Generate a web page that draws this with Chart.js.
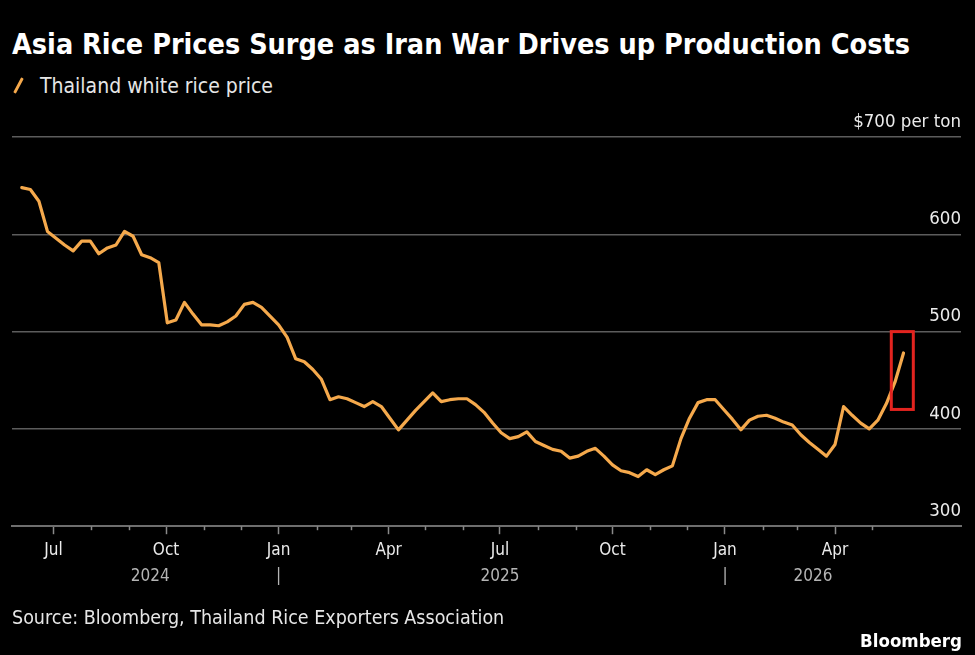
<!DOCTYPE html>
<html>
<head>
<meta charset="utf-8">
<script src="https://cdn.jsdelivr.net/npm/chart.js@4.4.1/dist/chart.umd.min.js"></script>
<style>
  html, body { margin: 0; padding: 0; background: #000; }
  body { width: 975px; height: 655px; position: relative; overflow: hidden;
         font-family: 'DejaVu Sans Condensed', 'Liberation Sans Narrow', 'DejaVu Sans', sans-serif; color: #fff; }
  #titulo { position: absolute; left: 12px; top: 28px; font-size: 28.5px; font-weight: bold; white-space: nowrap; }
  #legenda { position: absolute; left: 12px; top: 74px; font-size: 21px; color: #e6e6e6; white-space: nowrap; }
  #legenda .traco { display: inline-block; width: 3px; height: 17px; background: #f5a94c; border-radius: 1px;
                    transform: rotate(28deg); margin: 0 20px -1px 5px; }
  #fonte { position: absolute; left: 12px; top: 606px; font-size: 19.5px; color: #e6e6e6; white-space: nowrap; }
  #marca { position: absolute; right: 13px; top: 630px; font-size: 18.5px; font-weight: bold; color: #fff; }
  #caixa { position: absolute; left: 0; top: 0; width: 975px; height: 655px; }
</style>
</head>
<body>
<div id="titulo">Asia Rice Prices Surge as Iran War Drives up Production Costs</div>
<div id="legenda"><span class="traco"></span>Thailand white rice price</div>
<div id="caixa"><canvas id="graficoArroz"></canvas></div>
<div id="fonte">Source: Bloomberg, Thailand Rice Exporters Association</div>
<div id="marca">Bloomberg</div>

<script>
// Preço semanal (USD/t), primeira leitura em 5 jun 2024, uma por semana
const primeiraSemana = '2024-06-05';
const precos = [
  648, 646, 634, 603, 596, 589, 583, 593, 593, 580,
  586, 589, 603, 598, 579, 576, 571, 509, 512, 530,
  518, 507, 507, 506, 510, 516, 528, 530, 525, 516,
  507, 494, 472, 469, 461, 451, 430, 433, 431, 427,
  423, 428, 423, 411, 399, 409, 419, 428, 437, 428,
  430, 431, 431, 425, 417, 406, 396, 390, 392, 397,
  387, 383, 379, 377, 370, 372, 377, 380, 372, 363,
  357, 355, 351, 358, 353, 358, 362, 390, 411, 427,
  430, 430, 420, 410, 399, 409, 413, 414, 411, 407,
  404, 394, 386, 379, 372, 384, 423, 414, 406, 400,
  409, 426, 448, 478
];

const rotulosMes = { 1: 'Jan', 4: 'Apr', 7: 'Jul', 10: 'Oct' };
const primeiroMes = '2024-07-01';
const ultimoMes = '2026-05-01';

const rotulosAno = ['2024', '|', '2025', '|', '2026'];
const posicoesAno = ['2024-09-18', '2025-01-01', '2025-07-01', '2026-01-01', '2026-03-14'];

const ticksY = [300, 400, 500, 600, 700];

// destaque vermelho nas últimas semanas
const destaque = { de: '2026-05-17', ate: '2026-06-04', min: 420, max: 500 };

const corLinha = '#f5a94c';

function diaDoAno(txt) {
  const [a, m, d] = txt.split('-').map(Number);
  return (Date.UTC(a, m - 1, d) - Date.UTC(2024, 0, 1)) / 86400000;
}

const pontos = precos.map((v, i) => ({ x: diaDoAno(primeiraSemana) + 7 * i, y: v }));

function inicioDosMeses() {
  const lista = [];
  let [a, m] = primeiroMes.split('-').map(Number);
  const [aFim, mFim] = ultimoMes.split('-').map(Number);
  while (a < aFim || (a === aFim && m <= mFim)) {
    lista.push({ valor: (Date.UTC(a, m - 1, 1) - Date.UTC(2024, 0, 1)) / 86400000, mes: m });
    m++; if (m > 12) { m = 1; a++; }
  }
  return lista;
}
const meses = inicioDosMeses();

const xMin = diaDoAno('2024-05-28');
const xMax = diaDoAno('2026-07-13');

// marcas curtas nos meses sem rótulo + retângulo vermelho
const pluginExtras = {
  id: 'extras',
  afterDatasetsDraw(chart) {
    const { ctx, scales: { x, y } } = chart;
    ctx.save();
    ctx.strokeStyle = '#e3241f';
    ctx.lineWidth = 3;
    const x0 = x.getPixelForValue(diaDoAno(destaque.de));
    const x1 = x.getPixelForValue(diaDoAno(destaque.ate));
    const y0 = y.getPixelForValue(destaque.max);
    const y1 = y.getPixelForValue(destaque.min);
    ctx.strokeRect(x0, y0, x1 - x0, y1 - y0);
    ctx.restore();
  },
  afterDraw(chart) {
    const { ctx, scales: { x } } = chart;
    ctx.save();
    ctx.strokeStyle = '#8a8a8a';
    ctx.lineWidth = 1.5;
    meses.forEach(m => {
      if (rotulosMes[m.mes]) return;
      const px = Math.round(x.getPixelForValue(m.valor)) + 0.5;
      ctx.beginPath();
      ctx.moveTo(px, x.top);
      ctx.lineTo(px, x.top + 4);
      ctx.stroke();
    });
    ctx.restore();
  }
};

const fonteEixo = "'DejaVu Sans Condensed', 'Liberation Sans Narrow', 'DejaVu Sans', sans-serif";

new Chart(document.getElementById('graficoArroz'), {
  type: 'line',
  data: {
    datasets: [{
      label: 'Thailand white rice price',
      data: pontos,
      borderColor: corLinha,
      borderWidth: 3.2,
      borderJoinStyle: 'round',
      borderCapStyle: 'round',
      pointRadius: 0,
      tension: 0,
      fill: false
    }]
  },
  options: {
    responsive: true, maintainAspectRatio: false, animation: false,
    layout: { padding: { top: 137, left: 12, right: 14, bottom: 68 } },
    plugins: { legend: { display: false }, tooltip: { enabled: false } },
    scales: {
      x: {
        type: 'linear', position: 'bottom', weight: 0,
        min: xMin, max: xMax,
        afterBuildTicks: eixo => { eixo.ticks = meses.map(m => ({ value: m.valor })); },
        grid: {
          drawOnChartArea: false, drawTicks: true, tickLength: 8, tickWidth: 1.5,
          tickColor: ctx => {
            const m = meses.find(mm => mm.valor === ctx.tick.value);
            return m && rotulosMes[m.mes] ? '#8a8a8a' : 'rgba(0,0,0,0)';
          }
        },
        border: { display: true, color: '#6e6e6e', width: 2 },
        ticks: {
          autoSkip: false, maxRotation: 0, padding: 6,
          color: '#ececec', font: { family: fonteEixo, size: 17 },
          callback: valor => {
            const m = meses.find(mm => mm.valor === valor);
            return m ? (rotulosMes[m.mes] || '') : '';
          }
        }
      },
      anos: {
        type: 'linear', position: 'bottom', weight: 1,
        min: xMin, max: xMax,
        afterBuildTicks: eixo => { eixo.ticks = posicoesAno.map(p => ({ value: diaDoAno(p) })); },
        grid: { display: false, drawTicks: false },
        border: { display: false },
        ticks: {
          autoSkip: false, maxRotation: 0, padding: 0,
          color: '#b4b4b4', font: { family: fonteEixo, size: 17 },
          callback: valor => {
            const i = posicoesAno.findIndex(p => diaDoAno(p) === valor);
            return i >= 0 ? rotulosAno[i] : '';
          }
        }
      },
      y: {
        position: 'right', min: 300, max: 700,
        afterBuildTicks: eixo => { eixo.ticks = ticksY.map(v => ({ value: v })); },
        grid: { color: v => v.tick && v.tick.value === 300 ? 'rgba(0,0,0,0)' : '#5c5c5c', lineWidth: 1.5, drawTicks: false },
        border: { display: false },
        ticks: {
          mirror: true, padding: 0, labelOffset: -15,
          color: '#ececec', font: { family: fonteEixo, size: 18.5 },
          callback: v => v === 700 ? '$700 per ton' : String(v)
        }
      }
    }
  },
  plugins: [pluginExtras]
});
</script>
</body>
</html>
